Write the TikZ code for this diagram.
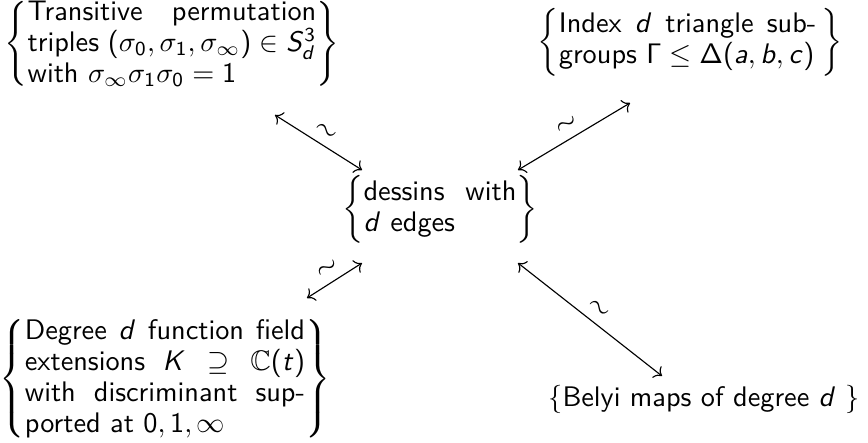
\documentclass[tikz,border=0pt]{standalone}
\usepackage{amssymb}
\usetikzlibrary{arrows.meta}
\renewcommand{\familydefault}{\sfdefault}
\DeclareSymbolFont{sfit}{OT1}{cmss}{m}{sl}
\SetSymbolFont{operators}{normal}{OT1}{cmss}{m}{n}
\DeclareMathSymbol{a}{\mathalpha}{sfit}{`a}
\DeclareMathSymbol{b}{\mathalpha}{sfit}{`b}
\DeclareMathSymbol{c}{\mathalpha}{sfit}{`c}
\DeclareMathSymbol{d}{\mathalpha}{sfit}{`d}
\DeclareMathSymbol{t}{\mathalpha}{sfit}{`t}
\DeclareMathSymbol{S}{\mathalpha}{sfit}{`S}
\DeclareMathSymbol{K}{\mathalpha}{sfit}{`K}
\tikzset{
  setnode/.style={inner sep=0pt, outer sep=0pt, font=\fontsize{10}{11}\selectfont\sffamily},
  iso/.style={{Computer Modern Rightarrow}-{Computer Modern Rightarrow}, line width=0.4pt},
  lbl/.style={sloped, above, inner sep=2.5pt, font=\fontsize{10}{12}\selectfont}
}
\begin{document}
\begin{tikzpicture}[x=0.3534pt, y=-0.3534pt]
\useasboundingbox (0,0) rectangle (868,442);
\node[setnode] (TL) at (172,44) {\lineskiplimit=-5pt$\left\{\parbox[c]{102pt}{Transitive permutation\linebreak triples $(\sigma_0,\sigma_1,\sigma_\infty)\in S_d^3$\linebreak with $\sigma_\infty\sigma_1\sigma_0=1$}\right\}$};
\node[setnode] (TR) at (690,42) {$\left\{\parbox[c]{91pt}{Index $d$ triangle sub-\linebreak groups $\Gamma\le\Delta(a,b,c)$}\,\right\}$};
\node[setnode] (C) at (440,209) {$\left\{\parbox[c]{54pt}{dessins with\linebreak $d$ edges}\right\}$};
\node[setnode] (BL) at (165,379) {\lineskiplimit=-5pt$\left\{\parbox[c]{99pt}{Degree $d$ function field\linebreak extensions $K\supseteq\mathbb{C}(t)$\linebreak with discriminant sup-\linebreak ported at $0,1,\infty$}\right\}$};
\node[setnode] (B) at (704,399) {$\{$Belyi maps of degree $d$\ $\}$};
\coordinate (a1s) at (275,115);
\coordinate (a1e) at (362,170);
\coordinate (a2s) at (518,170);
\coordinate (a2e) at (630,103);
\coordinate (a3s) at (362,263);
\coordinate (a3e) at (307,298);
\coordinate (a4s) at (518,263);
\coordinate (a4e) at (662,376);
\draw[iso] (a1s) -- node[lbl] {$\sim$} (a1e);
\draw[iso] (a2s) -- node[lbl] {$\sim$} (a2e);
\draw[iso] (a3s) -- node[lbl] {$\sim$} (a3e);
\draw[iso] (a4s) -- node[lbl] {$\sim$} (a4e);
\end{tikzpicture}
\end{document}
